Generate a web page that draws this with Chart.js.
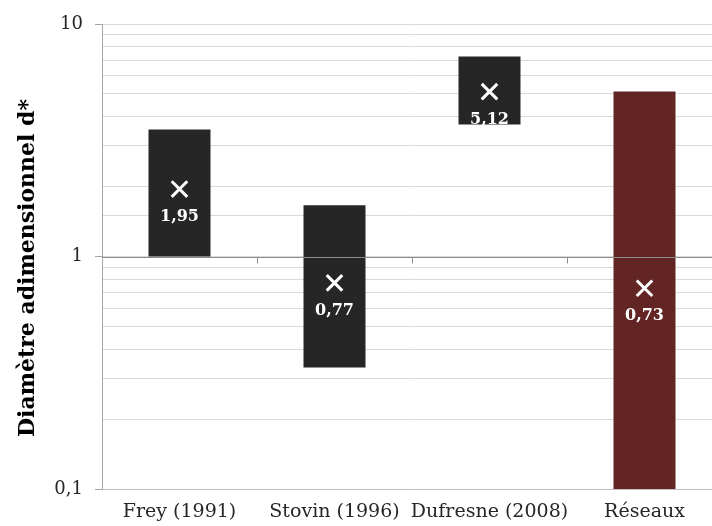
<!DOCTYPE html>
<html>
<head>
<meta charset="utf-8">
<script src="https://cdn.jsdelivr.net/npm/chart.js@4.4.0/dist/chart.umd.min.js"></script>
<style>
html, body { margin: 0; padding: 0; background: #fff; overflow: hidden; }
#zone { position: relative; width: 736px; height: 526px; }
</style>
</head>
<body>
<div id="zone"><canvas id="chart-diametre"></canvas></div>
<script>
// Données
var categories = ['Frey (1991)', 'Stovin (1996)', 'Dufresne (2008)', 'Réseaux'];
var rangeLow = [1, 0.333, 3.70, 0.1];
var rangeHigh = [3.52, 1.66, 7.25, 5.12];
var meanValues = [1.95, 0.77, 5.12, 0.73];
var yTickValues = [0.1, 1, 10];
var yTickLabels = ['0,1', '1', '10'];
var yTitle = 'Diamètre adimensionnel d*';
var barColors = ['#262626', '#262626', '#262626', '#632523'];

var serif = '"DejaVu Serif", "Liberation Serif", serif';

function tickIndex(v) {
    for (var i = 0; i < yTickValues.length; i++) {
        if (Math.abs(v - yTickValues[i]) < yTickValues[i] * 1e-6) return i;
    }
    return -1;
}

// axe horizontal qui croise à 1, étiquettes des valeurs, titre de l'axe Y
var axeCroisement = {
    id: 'axeCroisement',
    afterDatasetsDraw: function (chart) {
        var ctx = chart.ctx;
        var x = chart.scales.x, y = chart.scales.y;
        var yPix = Math.round(y.getPixelForValue(1)) + 0.5;
        ctx.save();
        ctx.strokeStyle = '#8c8c8c';
        ctx.lineWidth = 1;
        ctx.beginPath();
        ctx.moveTo(chart.chartArea.left, yPix);
        ctx.lineTo(chart.chartArea.right, yPix);
        for (var i = 1; i < categories.length; i++) {
            var xb = Math.round((x.getPixelForValue(i - 1) + x.getPixelForValue(i)) / 2) + 0.5;
            ctx.moveTo(xb, yPix);
            ctx.lineTo(xb, yPix + 6);
        }
        ctx.stroke();

        var meta = chart.getDatasetMeta(1);
        ctx.fillStyle = '#ffffff';
        ctx.font = 'bold 16px ' + serif;
        ctx.textAlign = 'center';
        ctx.textBaseline = 'middle';
        meta.data.forEach(function (pt, i) {
            ctx.fillText(meanValues[i].toFixed(2).replace('.', ','), pt.x, pt.y + 28);
        });

        // titre vertical
        ctx.translate(28, 268);
        ctx.rotate(-Math.PI / 2);
        ctx.fillStyle = '#000000';
        ctx.font = 'bold 22px ' + serif;
        ctx.fillText(yTitle, 0, 0);
        ctx.restore();
    }
};

var contexto = document.getElementById('chart-diametre').getContext('2d');
var chartDiametre = new Chart(contexto, {
    type: 'bar',
    data: {
        labels: categories,
        datasets: [{
            label: 'Plage',
            data: rangeLow.map(function (v, i) { return [v, rangeHigh[i]]; }),
            backgroundColor: barColors,
            borderWidth: 0,
            barPercentage: 0.4,
            categoryPercentage: 1,
            order: 1
        }, {
            type: 'line',
            label: 'Moyenne',
            data: meanValues,
            showLine: false,
            pointStyle: 'crossRot',
            pointRadius: 11,
            pointBorderColor: '#ffffff',
            pointBorderWidth: 3,
            pointBackgroundColor: '#ffffff',
            order: 0
        }]
    },
    options: {
        responsive: true,
        maintainAspectRatio: false,
        animation: false,
        layout: { padding: { top: 24, right: 0, bottom: 0, left: 0 } },
        plugins: {
            legend: { display: false },
            tooltip: { enabled: false }
        },
        scales: {
            x: {
                grid: { display: false },
                border: { display: true, color: '#bfbfbf' },
                ticks: {
                    autoSkip: false,
                    color: '#262626',
                    font: { family: serif, size: 19 },
                    padding: 4,
                    maxRotation: 0
                },
                afterFit: function (scale) { scale.height = 37; }
            },
            y: {
                type: 'logarithmic',
                min: 0.1,
                max: 10,
                grid: {
                    color: '#d9d9d9',
                    tickLength: 7,
                    tickColor: function (c) {
                        return c.tick && tickIndex(c.tick.value) >= 0 ? '#a6a6a6' : 'rgba(0,0,0,0)';
                    }
                },
                border: { color: '#a6a6a6' },
                ticks: {
                    autoSkip: false,
                    color: '#262626',
                    font: { family: serif, size: 18 },
                    padding: 12,
                    callback: function (v) {
                        var i = tickIndex(v);
                        return i >= 0 ? yTickLabels[i] : '';
                    }
                },
                afterFit: function (scale) { scale.width = 102; }
            }
        }
    },
    plugins: [axeCroisement]
});
</script>
</body>
</html>
